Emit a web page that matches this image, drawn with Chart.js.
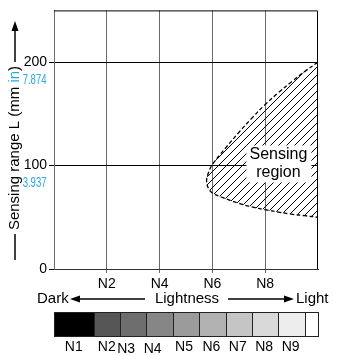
<!DOCTYPE html>
<html>
<head>
<meta charset="utf-8">
<script src="https://cdn.jsdelivr.net/npm/chart.js@4.4.0/dist/chart.umd.min.js"></script>
<style>
  html, body { margin: 0; padding: 0; background: #fff; }
  canvas { display: block; }
</style>
</head>
<body>
<canvas id="sensingChart" width="339" height="356"></canvas>
<script>
// x = lightness (Munsell N), y = sensing range in mm
const xTicks = [2, 4, 6, 8];
const yTicks = [0, 100, 200];
const yTicksInch = ['', '3.937', '7.874'];

// dashed outline of the sensing region (upper branch from the right, then lower branch)
const upperX = [10, 9.5, 9, 8.5, 8, 7.5, 7, 6.5, 6, 5.85, 5.78];
const upperY = [200, 191, 181, 170.5, 159, 146, 132, 117, 101, 93, 85];
const lowerX = [5.85, 6, 6.4, 7, 7.5, 8, 8.5, 9, 9.5, 10];
const lowerY = [78, 73.5, 69, 63.5, 60, 57.3, 55, 53, 51.5, 50];

// gray scale strip under the chart
const grayNames = ['N1', 'N2', 'N3', 'N4', 'N5', 'N6', 'N7', 'N8', 'N9', ''];
const grayEdges = [0, 1.5, 2.5, 3.5, 4.5, 5.5, 6.5, 7.5, 8.5, 9.5, 10];

const grayShades = ['#000000', '#565656', '#6e6e6e', '#868686', '#9b9b9b', '#b1b1b1', '#c5c5c5', '#d9d9d9', '#ededed', '#ffffff'];
const labelNudge = [0, 0, -7, -7, -2, -1, -1, -1, -1, 0];
const blue = '#29a9e1';
const FONT = '"Liberation Sans", Arial, Helvetica, sans-serif';

const regionPoints = upperX.map((x, i) => ({ x, y: upperY[i] }))
  .concat(lowerX.map((x, i) => ({ x, y: lowerY[i] })));

// diagonal hatch
const hatch = (() => {
  const n = 8;
  const c = document.createElement('canvas');
  c.width = n; c.height = n;
  const g = c.getContext('2d');
  g.strokeStyle = '#000';
  g.lineWidth = 1;
  g.beginPath();
  g.moveTo(0, n); g.lineTo(n, 0);
  g.moveTo(-1, 1); g.lineTo(1, -1);
  g.moveTo(n - 1, n + 1); g.lineTo(n + 1, n - 1);
  g.stroke();
  return g.createPattern(c, 'repeat');
})();

function arrow(ctx, x1, y1, x2, y2) {
  // line from (x1,y1) with a filled head at (x2,y2)
  const ang = Math.atan2(y2 - y1, x2 - x1);
  const len = 10, half = 3.5;
  const bx = x2 - Math.cos(ang) * len, by = y2 - Math.sin(ang) * len;
  ctx.beginPath();
  ctx.moveTo(x1, y1);
  ctx.lineTo(bx, by);
  ctx.stroke();
  ctx.beginPath();
  ctx.moveTo(x2, y2);
  ctx.lineTo(bx - Math.sin(ang) * half, by + Math.cos(ang) * half);
  ctx.lineTo(bx + Math.sin(ang) * half, by - Math.cos(ang) * half);
  ctx.closePath();
  ctx.fill();
}

const extras = {
  id: 'extras',
  afterDatasetsDraw(chart) {
    const { ctx, chartArea: a, scales: { x, y } } = chart;
    ctx.save();

    // label box inside the region
    const cx = x.getPixelForValue(8.5), cy = y.getPixelForValue(102);
    ctx.fillStyle = '#fff';
    ctx.fillRect(cx - 32, cy - 18, 65, 37);
    ctx.fillStyle = '#000';
    ctx.font = '16px ' + FONT;
    ctx.textAlign = 'center';
    ctx.textBaseline = 'middle';
    ctx.fillText('Sensing', cx, cy - 9);
    ctx.fillText('region', cx, cy + 9);

    // top and right frame
    ctx.strokeStyle = '#000';
    ctx.lineWidth = 1;
    ctx.beginPath();
    ctx.moveTo(a.left, a.top + 0.5);
    ctx.lineTo(a.right - 0.5, a.top + 0.5);
    ctx.lineTo(a.right - 0.5, a.bottom);
    ctx.stroke();
    ctx.restore();
  },
  afterDraw(chart) {
    const { ctx, chartArea: a, scales: { x, y } } = chart;
    ctx.save();

    // inch values under the mm ticks
    ctx.fillStyle = blue;
    ctx.font = '14px ' + FONT;
    ctx.textAlign = 'right';
    ctx.textBaseline = 'middle';
    yTicks.forEach((v, i) => {
      if (!yTicksInch[i]) return;
      const py = y.getPixelForValue(v) + 18;
      ctx.save();
      ctx.translate(a.left - 7.5, py);
      ctx.scale(0.68, 1);
      ctx.fillText(yTicksInch[i], 0, 0);
      ctx.restore();
    });

    // y axis title, rotated
    ctx.font = '15px ' + FONT;
    const parts = [['Sensing range L (mm ', '#000'], ['in', blue], [')', '#000']];
    const total = parts.reduce((s, p) => s + ctx.measureText(p[0]).width, 0);
    const tx = 15, tyc = 148;
    ctx.save();
    ctx.translate(tx, tyc);
    ctx.rotate(-Math.PI / 2);
    ctx.textAlign = 'left';
    let off = -total / 2;
    parts.forEach(([t, c]) => {
      ctx.fillStyle = c;
      ctx.fillText(t, off, 0);
      off += ctx.measureText(t).width;
    });
    ctx.restore();
    ctx.strokeStyle = '#000';
    ctx.fillStyle = '#000';
    ctx.lineWidth = 1.5;
    arrow(ctx, tx, tyc - total / 2 - 4, tx, 21);
    ctx.beginPath();
    ctx.moveTo(tx, tyc + total / 2 + 4);
    ctx.lineTo(tx, 260);
    ctx.stroke();

    // Dark <- Lightness -> Light
    const ly = 299;
    ctx.textBaseline = 'middle';
    ctx.textAlign = 'left';
    ctx.fillText('Dark', 37, ly);
    arrow(ctx, 145, ly, 70, ly);
    ctx.textAlign = 'center';
    ctx.fillText('Lightness', 187, ly);
    arrow(ctx, 228, ly, 294, ly);
    ctx.textAlign = 'left';
    ctx.fillText('Light', 296, ly);

    // gray scale strip
    const top = 312, bot = 336;
    ctx.lineWidth = 1;
    ctx.strokeStyle = '#222';
    grayShades.forEach((c, i) => {
      const x0 = Math.round(x.getPixelForValue(grayEdges[i]));
      const x1 = Math.round(x.getPixelForValue(grayEdges[i + 1]));
      ctx.fillStyle = c;
      ctx.fillRect(x0, top, x1 - x0, bot - top);
      ctx.strokeRect(x0 + 0.5, top + 0.5, x1 - x0, bot - top);
    });
    ctx.fillStyle = '#000';
    ctx.font = '14px ' + FONT;
    ctx.textAlign = 'center';
    grayNames.forEach((n, i) => {
      if (!n) return;
      const mid = (grayEdges[i] + grayEdges[i + 1]) / 2;
      const dy = (i === 2 || i === 3) ? 2 : 0;
      ctx.fillText(n, x.getPixelForValue(mid) + labelNudge[i], 347 + dy);
    });
    ctx.restore();
  }
};

new Chart(document.getElementById('sensingChart'), {
  type: 'scatter',
  data: {
    datasets: [{
      data: regionPoints,
      showLine: true,
      tension: 0.4,
      borderColor: '#000',
      borderWidth: 1.3,
      borderDash: [4, 2.5],
      backgroundColor: hatch,
      fill: 'shape',
      pointRadius: 0
    }]
  },
  options: {
    responsive: false,
    animation: false,
    layout: { padding: { left: 0, right: 21, top: 4, bottom: 67 } },
    plugins: { legend: { display: false }, tooltip: { enabled: false } },
    scales: {
      x: {
        type: 'linear',
        min: 0,
        max: 10,
        afterBuildTicks: s => { s.ticks = xTicks.map(v => ({ value: v })); },
        afterFit: s => { s.height = 20; },
        ticks: {
          callback: v => 'N' + v,
          color: '#000',
          font: { family: FONT, size: 14 },
          padding: 3,
          maxRotation: 0
        },
        grid: { color: '#6a6a6a', lineWidth: 1, tickLength: 4 },
        border: { color: '#333', width: 1 }
      },
      y: {
        type: 'linear',
        min: 0,
        max: 250,
        afterBuildTicks: s => { s.ticks = yTicks.map(v => ({ value: v })); },
        afterFit: s => { s.width = 54; },
        ticks: {
          color: '#000',
          font: { family: FONT, size: 14 },
          padding: 2
        },
        grid: { color: '#000', lineWidth: 1, tickLength: 5 },
        border: { color: '#6a6a6a', width: 1 }
      }
    }
  },
  plugins: [extras]
});
</script>
</body>
</html>
